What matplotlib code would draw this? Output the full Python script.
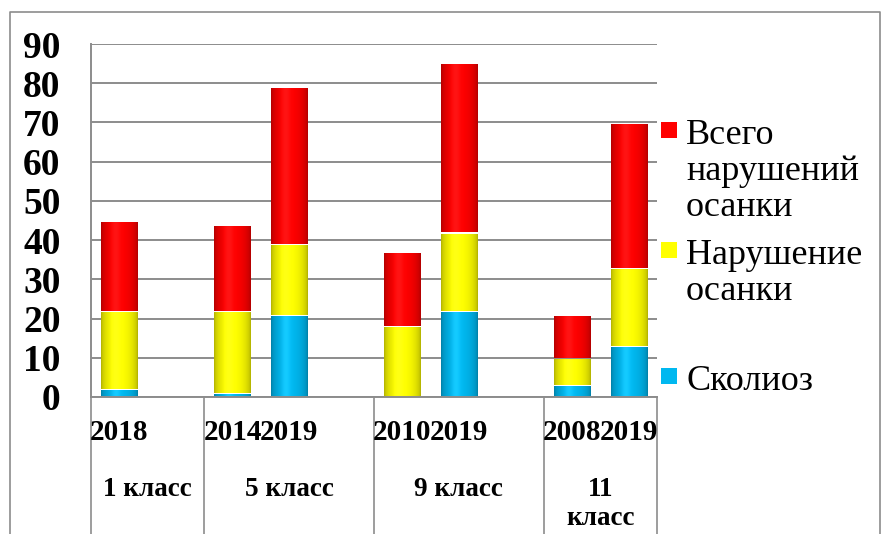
import numpy as np
import matplotlib
matplotlib.use("Agg")
import matplotlib.pyplot as plt
from matplotlib.lines import Line2D
from matplotlib.patches import Rectangle
from matplotlib.colors import to_rgb

plt.rcParams["font.family"] = ["Liberation Serif", "DejaVu Serif"]

# ---- data (one slot per year, empty slots separate the classes) ----
years = ["2018", "", "2014", "2019", "", "2010", "2019", "", "2008", "2019"]
scoliosis = [2, 0, 1, 21, 0, 0, 22, 0, 3, 13]
posture = [20, 0, 21, 18, 0, 18, 20, 0, 7, 20]
total = [23, 0, 22, 40, 0, 19, 43, 0, 11, 37]
grades = ["1 класс", "5 класс", "9 класс", "11\nкласс"]
grade_sizes = [2, 3, 3, 2]

series = [
    ("Сколиоз", scoliosis, "#00B8F0"),
    ("Нарушение\nосанки", posture, "#FFFF00"),
    ("Всего\nнарушений\nосанки", total, "#FF0000"),
]

GRID = "#8C8C8C"
W, H = 881, 534


def fx(px):
    return px / W


def fy(py):
    return 1 - py / H


def shade_bar(ax, patch, color, gap=0.4):
    # cylinder-like shading, small white gap on top of each segment
    x0, y0 = patch.get_x(), patch.get_y()
    w, h = patch.get_width(), patch.get_height()
    t = np.linspace(0, 1, 64)
    prof = 0.68 + 0.32 * np.sin(np.pi * t) ** 0.5
    base = np.array(to_rgb(color))
    img = np.clip(base[None, :] * prof[:, None]
                  + 0.08 * np.exp(-((t - 0.4) / 0.12) ** 2)[:, None], 0, 1)
    ax.imshow(img[None, :, :], extent=[x0, x0 + w, y0, y0 + h - gap],
              aspect="auto", interpolation="bicubic", zorder=2.5)


fig = plt.figure(figsize=(W / 100, H / 100), dpi=100, facecolor="white")
ax = fig.add_axes([fx(91), fy(397), fx(657) - fx(91), fy(44) - fy(397)])

x = np.arange(len(years))
bottom = np.zeros(len(years))
for name, vals, col in series:
    vals = np.array(vals, dtype=float)
    bars = ax.bar(x, vals, 0.64, bottom=bottom, color=col, linewidth=0, zorder=3)
    for p, v in zip(bars, vals):
        p.set_visible(False)
        if v > 0:
            shade_bar(ax, p, col)
    bottom += vals

ax.set_xlim(-0.5, len(years) - 0.5)
ax.set_ylim(0, 90)
ax.set_yticks(range(0, 91, 10))
ax.yaxis.grid(True, color=GRID, linewidth=1.4, zorder=1)
ax.set_axisbelow(True)
ax.tick_params(axis="y", length=0, pad=22, labelsize=27)
for lab in ax.get_yticklabels():
    lab.set_fontweight("bold")
ax.set_xticks([])
for s in ("top", "right"):
    ax.spines[s].set_visible(False)
for s in ("left", "bottom"):
    ax.spines[s].set_color(GRID)
    ax.spines[s].set_linewidth(1.4)

# year labels and class groups below the axis
trans = ax.get_xaxis_transform()
for xi, yr in zip(x, years):
    ax.text(xi, -0.062, yr, transform=trans, ha="center", va="top",
            fontsize=21, fontweight="bold")
edges = np.concatenate([[0], np.cumsum(grade_sizes)]) - 0.5
for e in edges:
    ax.plot([e, e], [0, -0.39], transform=trans, color=GRID, linewidth=1.2,
            clip_on=False)
for g, a, b in zip(grades, edges[:-1], edges[1:]):
    ax.text((a + b) / 2, -0.226, g, transform=trans, ha="center", va="top",
            fontsize=19.5, fontweight="bold", linespacing=1.2)

# legend drawn by hand (Excel-like placement)
legend_rows = [(series[2], 130), (series[1], 250), (series[0], 376)]
for (name, _, col), yc in legend_rows:
    fig.add_artist(Rectangle((fx(661), fy(yc + 8)), fx(16), fy(yc - 8) - fy(yc + 8),
                             transform=fig.transFigure, facecolor=col,
                             edgecolor="none"))
    fig.text(fx(686), fy(yc - 11), name, ha="left", va="top", fontsize=26,
             linespacing=1.12)

# outer chart frame
fig.add_artist(Line2D([fx(10), fx(10), fx(880), fx(880)],
                      [0, fy(12), fy(12), 0], transform=fig.transFigure,
                      color=GRID, linewidth=1.2))

fig.savefig("out.png", dpi=100, facecolor="white")
